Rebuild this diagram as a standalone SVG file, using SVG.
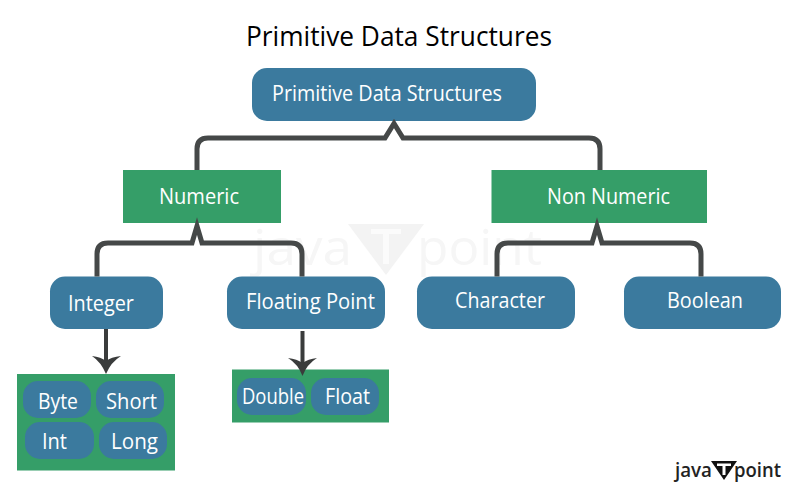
<svg xmlns="http://www.w3.org/2000/svg" width="800" height="491" viewBox="0 0 800 491">
<style>
text{font-family:"Open Sans","Noto Sans","Liberation Sans",sans-serif}
.b{fill:#3b7a9e}.g{fill:#359e68}
.t{fill:#fff;font-size:21px}
.c{fill:none;stroke:#454848;stroke-width:5;stroke-linejoin:miter}
.a{fill:none;stroke:#3a3c3c;stroke-width:4}
.h{fill:#3a3c3c}
.w{fill:#f6f6f6;font-size:50px}
.l{fill:#222;font-size:20px;font-weight:600}
</style>
<rect width="800" height="491" fill="#fff"/>
<g id="watermark">
<text class="w" x="253" y="265" textLength="99" lengthAdjust="spacingAndGlyphs">java</text>
<polygon points="348,224 424,224 386,275" fill="#f3f3f3"/>
<path d="M371 229H401V234H389V264H383V234H371Z" fill="#fbfbfb"/>
<text class="w" x="417" y="265" textLength="125" lengthAdjust="spacingAndGlyphs">point</text>
</g>
<text id="title" x="246" y="46" font-size="27" fill="#000" textLength="306" lengthAdjust="spacingAndGlyphs">Primitive Data Structures</text>
<g id="root"><rect class="b" x="252" y="68" width="284" height="53" rx="15"/><text class="t" x="272" y="101" textLength="230" lengthAdjust="spacingAndGlyphs">Primitive Data Structures</text></g>
<g id="numeric"><rect class="g" x="123" y="170" width="158" height="53"/><text class="t" x="159" y="204" textLength="80" lengthAdjust="spacingAndGlyphs">Numeric</text></g>
<g id="non-numeric"><rect class="g" x="491.500" y="170" width="215.500" height="53"/><text class="t" x="547" y="204" textLength="123" lengthAdjust="spacingAndGlyphs">Non Numeric</text></g>
<g id="integer"><rect class="b" x="50" y="276.500" width="113" height="52.500" rx="15"/><text class="t" x="68" y="311" textLength="66" lengthAdjust="spacingAndGlyphs">Integer</text></g>
<g id="floating-point"><rect class="b" x="227" y="276.500" width="158" height="52.500" rx="15"/><text class="t" x="246" y="309" textLength="129" lengthAdjust="spacingAndGlyphs">Floating Point</text></g>
<g id="character"><rect class="b" x="417" y="276.500" width="158" height="52.500" rx="15"/><text class="t" x="455" y="308" textLength="90" lengthAdjust="spacingAndGlyphs">Character</text></g>
<g id="boolean"><rect class="b" x="624" y="276.500" width="157" height="52.500" rx="15"/><text class="t" x="667" y="308" textLength="76" lengthAdjust="spacingAndGlyphs">Boolean</text></g>
<g id="integer-types"><rect class="g" x="17" y="374" width="158" height="96.500"/></g>
<g id="byte"><rect class="b" x="23" y="381" width="68" height="37" rx="15"/><text class="t" x="38" y="409" textLength="40" lengthAdjust="spacingAndGlyphs">Byte</text></g>
<g id="short"><rect class="b" x="96" y="381" width="68" height="37" rx="15"/><text class="t" x="106" y="409" textLength="51" lengthAdjust="spacingAndGlyphs">Short</text></g>
<g id="int"><rect class="b" x="25" y="422" width="69" height="37" rx="15"/><text class="t" x="42" y="449" textLength="25" lengthAdjust="spacingAndGlyphs">Int</text></g>
<g id="long"><rect class="b" x="99" y="422" width="68" height="37" rx="15"/><text class="t" x="111" y="449" textLength="47" lengthAdjust="spacingAndGlyphs">Long</text></g>
<g id="float-types"><rect class="g" x="232" y="369.500" width="157" height="53"/></g>
<g id="double"><rect class="b" x="237" y="378" width="69" height="37" rx="15"/><text class="t" x="242" y="404" textLength="62" lengthAdjust="spacingAndGlyphs">Double</text></g>
<g id="float"><rect class="b" x="311" y="378" width="68" height="37" rx="15"/><text class="t" x="325" y="404" textLength="45" lengthAdjust="spacingAndGlyphs">Float</text></g>
<g id="connectors">
<path class="c" d="M197 170V149Q197 138 208 138H385L394 123.500L403 138H589Q600 138 600 149V170"/>
<path class="c" d="M97 276.500V254Q97 243 108 243H192L197 226L202 243H291Q302 243 302 254V276.500"/>
<path class="c" d="M497 276.500V254Q497 243 508 243H592L597 226L602 243H690Q701 243 701 254V276.500"/>
<path class="a" d="M106 329V362"/>
<path class="h" d="M92 356Q101 357 106 361Q111 357 121 356Q111 362 106 374Q101 362 92 356Z"/>
<path class="a" d="M302.500 331V364"/>
<path class="h" d="M288 358Q297 359 302.500 363Q308 359 317 358Q307 364 302.500 376Q298 364 288 358Z"/>
</g>
<g id="logo">
<text class="l" x="675" y="477" textLength="37" lengthAdjust="spacingAndGlyphs">java</text>
<polygon points="711,461 737,461 724,480" fill="#111"/>
<path d="M717 463.500H731V466H725.500V475H722.500V466H717Z" fill="#fff"/>
<text class="l" x="734" y="477" textLength="47" lengthAdjust="spacingAndGlyphs">point</text>
</g>
</svg>
